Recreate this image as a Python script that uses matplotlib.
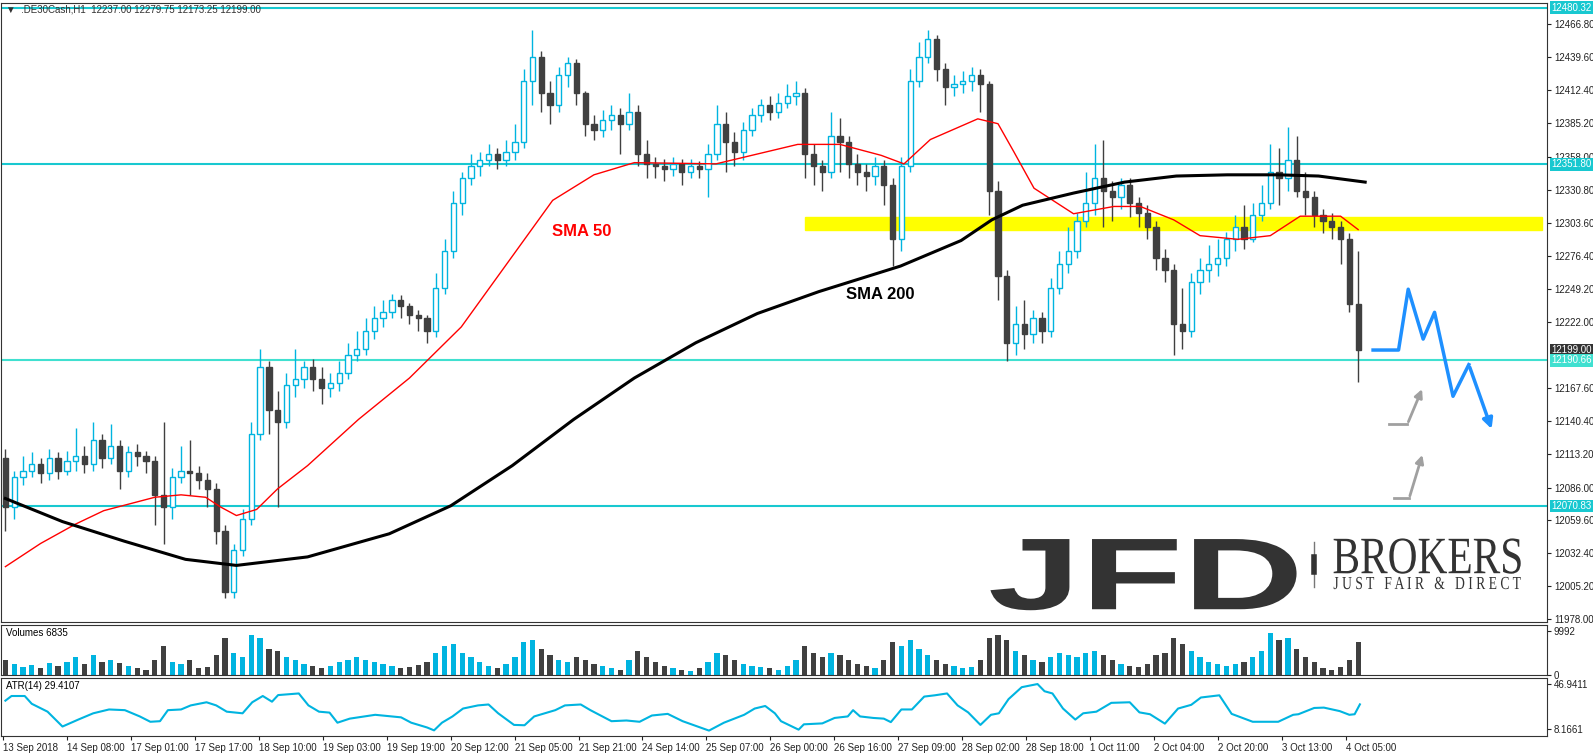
import numpy as np
import matplotlib.pyplot as plt
import matplotlib.transforms as mtransforms
from matplotlib.textpath import TextPath
from matplotlib.patches import PathPatch
from matplotlib.font_manager import FontProperties

# two-hour candles
closes = [12070, 12095, 12100, 12105, 12098, 12110, 12100, 12108, 12112, 12105,
          12125, 12110, 12120, 12100, 12115, 12112, 12108, 12080, 12070, 12095,
          12100, 12098, 12092, 12085, 12050, 12000, 12035, 12060, 12130, 12185,
          12150, 12140, 12170, 12175, 12185, 12175, 12168, 12172, 12180, 12195,
          12200, 12215, 12225, 12230, 12240, 12235, 12228, 12225, 12215, 12250,
          12280, 12320, 12340, 12350, 12355, 12360, 12355, 12362, 12370, 12420,
          12440, 12410, 12400, 12425, 12435, 12410, 12385, 12380, 12388, 12392,
          12385, 12395, 12360, 12352, 12350, 12348, 12352, 12345, 12350, 12348,
          12360, 12385, 12370, 12362, 12380, 12392, 12400, 12395, 12402, 12408,
          12410, 12360, 12350, 12345, 12375, 12370, 12352, 12345, 12342, 12350,
          12335, 12290, 12350, 12420, 12440, 12455, 12430, 12415, 12418, 12420,
          12425, 12418, 12330, 12260, 12205, 12220, 12212, 12225, 12215, 12250,
          12270, 12280, 12305, 12320, 12340, 12330, 12325, 12335, 12320, 12312,
          12300, 12275, 12265, 12220, 12215, 12255, 12265, 12270, 12275, 12290,
          12300, 12290, 12310, 12320, 12345, 12340, 12355, 12330, 12325, 12310,
          12305, 12300, 12290, 12237, 12199]
highs = [12118, 12100, 12112, 12115, 12110, 12118, 12115, 12116, 12135, 12120,
         12140, 12130, 12138, 12125, 12120, 12122, 12116, 12112, 12140, 12102,
         12120, 12125, 12104, 12098, 12090, 12055, 12040, 12068, 12140, 12200,
         12190, 12165, 12180, 12200, 12190, 12192, 12185, 12180, 12190, 12205,
         12215, 12225, 12235, 12240, 12245, 12244, 12238, 12232, 12228, 12262,
         12290, 12330, 12345, 12360, 12362, 12368, 12365, 12372, 12385, 12430,
         12462, 12445, 12420, 12432, 12440, 12438, 12412, 12392, 12396, 12400,
         12398, 12410, 12400, 12372, 12358, 12356, 12358, 12356, 12356, 12354,
         12368, 12400, 12395, 12378, 12386, 12398, 12405, 12408, 12410, 12418,
         12420, 12414, 12368, 12355, 12395, 12390, 12375, 12360, 12352, 12358,
         12355, 12340, 12358, 12430, 12452, 12462, 12458, 12435, 12425, 12428,
         12432, 12430, 12420, 12338, 12265, 12235, 12240, 12232, 12230, 12258,
         12280, 12300, 12312, 12345, 12368, 12372, 12338, 12340, 12340, 12325,
         12318, 12305, 12282, 12270, 12250, 12262, 12275, 12285, 12290, 12296,
         12310, 12318, 12320, 12335, 12368, 12365, 12382, 12375, 12345, 12330,
         12315, 12312, 12305, 12295, 12280]
lows = [12050, 12060, 12088, 12095, 12090, 12092, 12093, 12096, 12100, 12098,
        12100, 12102, 12105, 12085, 12095, 12104, 12098, 12055, 12040, 12060,
        12090, 12080, 12085, 12070, 12040, 11995, 11995, 12030, 12055, 12125,
        12130, 12070, 12135, 12160, 12168, 12165, 12155, 12160, 12165, 12175,
        12190, 12195, 12208, 12218, 12225, 12225, 12220, 12215, 12205, 12210,
        12245, 12275, 12310, 12335, 12342, 12350, 12348, 12350, 12355, 12365,
        12400, 12395, 12385, 12395, 12415, 12400, 12375, 12372, 12374, 12380,
        12360, 12380, 12350, 12340, 12340, 12338, 12342, 12335, 12340, 12340,
        12325, 12355, 12345, 12350, 12355, 12375, 12386, 12388, 12390, 12398,
        12400, 12340, 12335, 12330, 12340, 12345, 12340, 12335, 12330, 12335,
        12318, 12268, 12280, 12345, 12415, 12435, 12420, 12400, 12408, 12410,
        12412, 12395, 12310, 12240, 12190, 12195, 12200, 12205, 12205, 12210,
        12245, 12262, 12275, 12300, 12310, 12300, 12305, 12315, 12308, 12300,
        12290, 12265, 12255, 12195, 12200, 12210, 12245, 12255, 12260, 12268,
        12280, 12282, 12288, 12305, 12315, 12318, 12330, 12325, 12310, 12300,
        12295, 12290, 12270, 12230, 12173]
first_open = 12110

volumes = [3500, 2500, 1800, 2200, 1500, 2800, 2000, 3000, 4000, 2500,
           4500, 3000, 3500, 2800, 2000, 1500, 1200, 3500, 6500, 3000,
           2500, 3500, 1500, 1800, 4500, 8500, 5000, 4000, 9000, 8500,
           6000, 5500, 4000, 3500, 2500, 2000, 1500, 2000, 3000, 3500,
           4000, 3500, 3000, 2500, 2000, 1500, 1800, 2200, 3000, 5000,
           6500, 7000, 5000, 4000, 3000, 2000, 1500, 2500, 4000, 7500,
           8000, 6000, 4500, 3500, 3000, 4000, 3500, 2500, 2000, 1500,
           1200, 3500, 5500, 4000, 3000, 2000, 1500, 1200, 1000, 1500,
           3000, 5000, 4500, 3500, 2500, 2000, 1800, 1500, 1200, 2000,
           3500, 6500, 5000, 4000, 5000, 4500, 3500, 2500, 2000, 1500,
           3500, 7500, 6500, 8000, 6000, 4500, 3500, 2500, 2000, 1500,
           1800, 3500, 8500, 9000, 8000, 5500, 4500, 3500, 3000, 4000,
           5000, 4500, 4000, 5000, 5500, 4500, 3500, 2500, 2000, 1800,
           2500, 4500, 5000, 8500, 7000, 5500, 4000, 3000, 2500, 2000,
           2500, 3000, 4000, 5500, 9500, 8000, 8500, 6000, 4000, 3000,
           1500, 1200, 1800, 3500, 7500]

sma50_idx = [0, 4, 8, 11.2, 17, 20, 22.8, 24.5, 26.3, 28.6, 31, 34.4, 40.2, 46,
             51.9, 57.7, 62.3, 67, 71.6, 80.9, 90.2, 95, 99.7, 102.3, 105.3,
             110.7, 113, 114.8, 117.1, 121.6, 126.2, 129.2, 133, 136, 140.3,
             144, 147.4, 152, 154]
sma50_val = [12021, 12040, 12056, 12067, 12078, 12080, 12078, 12070, 12063,
             12068, 12085, 12104, 12142, 12176, 12218, 12276, 12322, 12343,
             12353, 12352, 12368, 12368, 12359, 12352, 12372, 12389, 12385,
             12362, 12332, 12311, 12317, 12317, 12306, 12293, 12290, 12293,
             12309, 12309, 12298]
sma200_idx = [0, 6.5, 13.5, 20.5, 26.3, 34.4, 43.7, 50.7, 57.7, 64.7, 71.6,
              78.6, 85.6, 92.6, 101.9, 108.8, 112.3, 115.8, 121.6, 127.4,
              133.3, 139.1, 144.9, 149.5, 154.8]
sma200_val = [12077, 12058, 12042, 12027, 12022, 12029, 12048, 12071, 12104,
              12142, 12176, 12205, 12229, 12247, 12268, 12289, 12306, 12318,
              12328, 12337, 12342, 12343, 12343, 12342, 12337]

atr_idx = [0, 0.7, 2.2, 3.0, 4.8, 6.5, 8.3, 10.0, 11.8, 13.6, 15.3, 16.5, 17.6,
           18.5, 20.0, 21.1, 22.9, 24.0, 25.2, 27.0, 28.1, 29.3, 30.35, 31.05,
           33.4, 34.5, 35.7, 36.9, 37.8, 39.2, 42.1, 45.05, 46.2, 48.0, 48.8,
           49.7, 50.9, 52.1, 53.8, 55.0, 56.1, 57.9, 59.1, 60.2, 62.6, 63.7,
           65.5, 66.6, 69.0, 70.7, 72.2, 73.6, 75.4, 77.1, 80.1, 81.8, 84.1,
           85.3, 86.5, 87.6, 88.3, 90.3, 90.9, 93.0, 94.4, 95.9, 96.5, 97.3,
           98.8, 100.0, 100.8, 102.0, 103.2, 104.6, 105.8, 107.2, 108.4,
           109.6, 111.0, 112.2, 113.1, 114.2, 115.7, 117.5, 118.3, 119.2,
           120.4, 121.8, 122.7, 124.2, 125.9, 128.0, 129.1, 130.3, 132.0,
           133.5, 135.0, 136.1, 138.2, 139.6, 142.0, 144.9, 146.6, 147.2,
           149.0, 150.1, 151.9, 153.0, 153.6, 154.2]
atr_val = [32.6, 36.6, 36.6, 29.9, 23.1, 10.3, 16.3, 21.7, 25.0, 24.4, 19.0,
           14.4, 14.9, 24.4, 25.0, 28.5, 31.2, 28.5, 23.1, 21.7, 31.2, 36.6,
           31.7, 37.4, 38.8, 28.5, 23.1, 22.3, 13.6, 17.1, 20.4, 18.2, 13.6,
           9.5, 7.0, 13.6, 19.0, 25.8, 28.5, 29.3, 21.7, 11.7, 11.4, 19.0,
           24.4, 28.5, 29.3, 24.4, 14.9, 15.5, 14.4, 19.8, 21.2, 14.9, 6.8,
           13.6, 20.4, 25.8, 28.0, 21.7, 14.9, 7.6, 12.2, 13.0, 17.7, 19.0,
           24.4, 19.0, 17.7, 17.1, 14.1, 25.0, 25.0, 36.1, 37.2, 38.8, 28.5,
           22.5, 11.7, 20.4, 21.7, 33.9, 44.2, 46.9, 40.7, 38.8, 25.8, 16.3,
           21.7, 23.1, 30.7, 31.2, 22.5, 20.9, 12.8, 25.8, 29.0, 35.3, 37.2,
           21.2, 14.4, 14.4, 20.4, 20.9, 26.3, 26.6, 23.6, 20.4, 20.9, 29.4]

arrow_idx = [155.7, 158.6, 159.7, 161.4, 162.7, 164.8, 166.6, 169.3]
arrow_val = [12199, 12199, 12249, 12208, 12230, 12161, 12187, 12132]
gray1_idx = [157.5, 159.6, 161.4]
gray1_val = [12138, 12138, 12169]
gray2_idx = [158.1, 159.8, 161.4]
gray2_val = [12077, 12077, 12115]

hlines = [12480.32, 12351.80, 12190.66, 12070.83]
price_ticks = [12466.80, 12439.60, 12412.40, 12385.20, 12358.00, 12330.80,
               12303.60, 12276.40, 12249.20, 12222.00, 12167.60, 12140.40,
               12113.20, 12086.00, 12059.60, 12032.40, 12005.20, 11978.00]
time_labels = ['13 Sep 2018', '14 Sep 08:00', '17 Sep 01:00', '17 Sep 17:00',
               '18 Sep 10:00', '19 Sep 03:00', '19 Sep 19:00', '20 Sep 12:00',
               '21 Sep 05:00', '21 Sep 21:00', '24 Sep 14:00', '25 Sep 07:00',
               '26 Sep 00:00', '26 Sep 16:00', '27 Sep 09:00', '28 Sep 02:00',
               '28 Sep 18:00', '1 Oct 11:00', '2 Oct 04:00', '2 Oct 20:00',
               '3 Oct 13:00', '4 Oct 05:00']

CYAN = '#00b4e0'
DARK = '#404040'
LINE = '#18c8d0'
W, H = 1593, 755
XMIN, XMAX = -0.5, 175.5
plt.rcParams['font.family'] = ['Liberation Sans', 'DejaVu Sans']

fig = plt.figure(figsize=(15.93, 7.55), dpi=100)
def px_axes(top, bottom):
    return fig.add_axes([1 / W, 1 - bottom / H, 1546 / W, (bottom - top) / H])

ax = px_axes(3, 622)
axv = px_axes(625, 675)
axa = px_axes(678, 736)

n = len(closes)
idx = np.arange(n)
opens = np.array([first_open] + closes[:-1])
closes_a = np.array(closes)
up = closes_a >= opens
cols = np.where(up, CYAN, DARK)

ax.axhspan(12298, 12308, xmin=(91 - XMIN) / (XMAX - XMIN), xmax=0.997,
           color='#ffff00', zorder=1)
for v in hlines:
    ax.axhline(v, color='#40e0d0' if v == 12190.66 else LINE, lw=1.5, zorder=2)

ax.vlines(idx, lows, highs, colors=cols, lw=1, zorder=3)
ax.bar(idx[up], (closes_a - opens)[up], bottom=opens[up], width=0.6,
       color='white', edgecolor=CYAN, lw=1, zorder=4)
ax.bar(idx[~up], (opens - closes_a)[~up], bottom=closes_a[~up], width=0.6,
       color=DARK, edgecolor=DARK, lw=1, zorder=4)
ax.plot(sma50_idx, sma50_val, color='red', lw=1, zorder=5)
ax.plot(sma200_idx, sma200_val, color='black', lw=2.2, zorder=5)

ax.plot(arrow_idx[:-1], arrow_val[:-1], color='#1e90ff', lw=2.5, zorder=6)
ax.annotate('', xy=(arrow_idx[-1], arrow_val[-1]), xytext=(arrow_idx[-2], arrow_val[-2]),
            arrowprops=dict(arrowstyle='-|>', color='#1e90ff', lw=2.5, mutation_scale=15))
for gi, gv in [(gray1_idx, gray1_val), (gray2_idx, gray2_val)]:
    ax.plot(gi[:-1], gv[:-1], color='#a0a0a0', lw=2)
    ax.annotate('', xy=(gi[-1], gv[-1]), xytext=(gi[-2], gv[-2]),
                arrowprops=dict(arrowstyle='-|>', color='#a0a0a0', lw=2, mutation_scale=12))

ax.text(62.2, 12293, 'SMA 50', color='red', fontsize=12, fontweight='bold')
ax.text(95.7, 12241, 'SMA 200', color='black', fontsize=12, fontweight='bold')
ax.text(0.003, 0.998, '▼  .DE30Cash,H1  12237.00 12279.75 12173.25 12199.00',
        transform=ax.transAxes, fontsize=7, va='top', color='#333333')


# logo: text stretched to fill a box given in axes fractions
def logo_text(s, box, family, weight='normal'):
    tp = TextPath((0, 0), s, size=1, prop=FontProperties(family=family, weight=weight))
    ext = tp.get_extents()
    x0, y0, x1, y1 = box
    t = mtransforms.Affine2D().translate(-ext.x0, -ext.y0).scale(
        (x1 - x0) / ext.width, (y1 - y0) / ext.height).translate(x0, y0)
    ax.add_patch(PathPatch(tp, transform=t + ax.transAxes, fc='#333333', ec='none',
                           zorder=1))


logo_text('JFD', (0.640, 0.019, 0.838, 0.134), 'Liberation Sans', 'bold')
logo_text('BROKERS', (0.862, 0.078, 0.983, 0.135), 'Liberation Serif')
logo_text('J U S T   F A I R   &   D I R E C T', (0.862, 0.053, 0.983, 0.073),
          'Liberation Serif')
ax.plot([0.849, 0.849], [0.057, 0.129], transform=ax.transAxes, color='#777777', lw=1)
ax.plot([0.849, 0.849], [0.08, 0.105], transform=ax.transAxes, color='#333333', lw=4)

ax.set_xlim(XMIN, XMAX)
ax.set_ylim(11975.5, 12484.2)
ax.yaxis.tick_right()
ax.set_yticks(price_ticks)
ax.set_yticklabels([f'{t:.2f}' for t in price_ticks])
ax.set_xticks([])

tr = mtransforms.blended_transform_factory(ax.transAxes, ax.transData)
boxes = [(12480.32, LINE), (12351.80, LINE), (12199.00, '#333333'),
         (12190.66, '#40e0d0'), (12070.83, LINE)]
for v, bg in boxes:
    ax.text(1.003, v, f'{v:.2f}', transform=tr, fontsize=7, color='white', va='center',
            ha='left', bbox=dict(boxstyle='square,pad=0.15', fc=bg, ec='none'),
            clip_on=False, zorder=10)

axv.bar(idx, volumes, width=0.6, color=cols)
axv.set_xlim(XMIN, XMAX)
axv.set_ylim(0, 11350)
axv.yaxis.tick_right()
axv.set_yticks([0, 9992])
axv.set_yticklabels(['0', '9992'])
axv.set_xticks([])
axv.text(0.003, 0.95, 'Volumes 6835', transform=axv.transAxes, fontsize=7, va='top')

axa.plot(atr_idx, atr_val, color=CYAN, lw=1.5)
axa.set_xlim(XMIN, XMAX)
axa.set_ylim(2.14, 52.11)
axa.yaxis.tick_right()
axa.set_yticks([8.1661, 46.9411])
axa.set_yticklabels(['8.1661', '46.9411'])
axa.text(0.003, 0.95, 'ATR(14) 29.4107', transform=axa.transAxes, fontsize=7, va='top')
tick_pos = [(1.5 + 64 * k - 4) / 8.79 for k in range(len(time_labels))]
axa.set_xticks(tick_pos)
axa.set_xticklabels(time_labels, ha='left', fontsize=7)

for a in (ax, axv, axa):
    a.tick_params(axis='y', labelsize=7, length=3, pad=2, colors='#222222')
    a.tick_params(axis='x', length=3, pad=2, colors='#222222')
    for s in a.spines.values():
        s.set_color('#333333')
        s.set_linewidth(0.8)

fig.savefig('out.png', dpi=100)
